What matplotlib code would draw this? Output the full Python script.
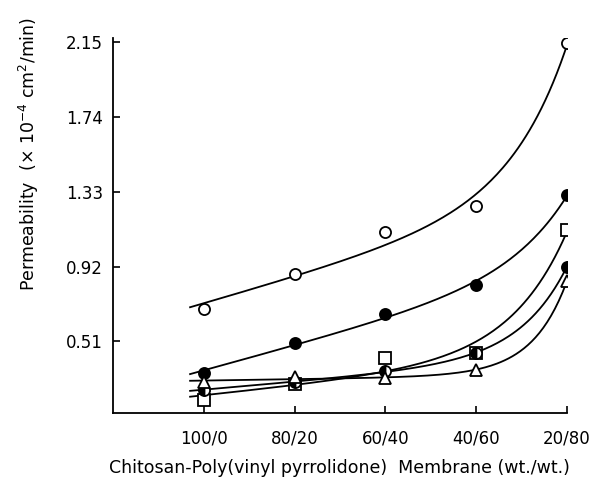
import numpy as np
import matplotlib.pyplot as plt

# membrane compositions (chitosan / PVP)
labels = ["100/0", "80/20", "60/40", "40/60", "20/80"]
xpos = np.arange(len(labels))

# permeability x 1e-4 cm2/min
open_circle = [0.69, 0.88, 1.11, 1.25, 2.14]
filled_circle = [0.34, 0.50, 0.66, 0.82, 1.31]
square = [0.19, 0.28, 0.42, 0.445, 1.12]
half_circle = [0.245, 0.29, 0.35, 0.445, 0.92]
triangle = [0.29, 0.315, 0.31, 0.355, 0.84]

yticks = [0.51, 0.92, 1.33, 1.74, 2.15]


def smooth_fit(x, y, k, xs):
    # least squares y = a + b*x + c*exp(k*x)
    A = np.column_stack([np.ones_like(x, dtype=float), x, np.exp(k * x)])
    coef = np.linalg.lstsq(A, np.asarray(y), rcond=None)[0]
    return coef[0] + coef[1] * xs + coef[2] * np.exp(k * xs)


fig = plt.figure(figsize=(6.07, 4.80), dpi=100)
ax = fig.add_axes([0.186, 0.140, 0.748, 0.781])

xs = np.linspace(-0.15, 4.08, 200)
series = [
    (open_circle, dict(marker="o", mfc="white"), 1.6),
    (filled_circle, dict(marker="o", mfc="black"), 1.6),
    (square, dict(marker="s", mfc="white"), 1.6),
    (half_circle, dict(marker="o", fillstyle="left", mfc="black", markerfacecoloralt="white"), 1.9),
    (triangle, dict(marker="^", mfc="white"), 2.6),
]
for vals, mk, k in series:
    ax.plot(xs, smooth_fit(xpos, vals, k, xs), color="black", lw=1.3, zorder=2)
    ax.plot(xpos, vals, ls="none", mec="black", mew=1.3, ms=8, zorder=3, **mk)

ax.set_xlim(-1, 4)
ax.set_ylim(0.12, 2.17)
ax.set_xticks(xpos)
ax.set_xticklabels(labels)
ax.set_yticks(yticks)
ax.set_yticklabels(["%.2f" % v for v in yticks])
ax.spines["top"].set_visible(False)
ax.spines["right"].set_visible(False)
ax.spines["left"].set_linewidth(1.3)
ax.spines["bottom"].set_linewidth(1.3)
ax.tick_params(direction="in", length=5, width=1.2, labelsize=12)
ax.tick_params(axis="x", pad=12)
ax.tick_params(axis="y", pad=7)

ax.set_xlabel("Chitosan-Poly(vinyl pyrrolidone)  Membrane (wt./wt.)", fontsize=12.5, labelpad=8)
ax.set_ylabel(r"Permeability  ($\times$ 10$^{-4}$ cm$^2$/min)", fontsize=12.5)
ax.yaxis.set_label_coords(-0.158, 0.69)

fig.savefig("out.png", dpi=100)
